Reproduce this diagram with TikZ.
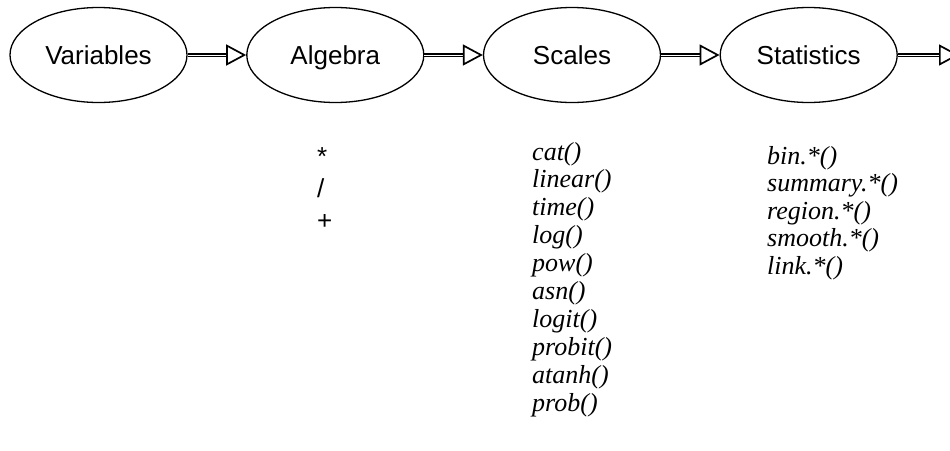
\documentclass[tikz,border=0pt]{standalone}
\usepackage{fontspec}
\setmainfont{Liberation Serif}
\setsansfont{Liberation Sans}
\usetikzlibrary{shapes.geometric,arrows.meta}
\begin{document}
\begin{tikzpicture}[x=1pt,y=-1pt,
  stage/.style={ellipse,draw,line width=1.3pt,minimum width=177pt,minimum height=95pt,inner sep=0pt,
    text height=19pt,text depth=0pt,
    font=\sffamily\fontsize{26}{31.7}\selectfont},
  flow/.style={double,line width=1.6pt,double distance=0.7pt,
    -{Triangle[open,length=20pt,width=21pt,line width=1.7pt]}},
  optxt/.style={anchor=base west,inner sep=0pt,font=\sffamily\fontsize{26}{31.7}\selectfont},
  fntxt/.style={anchor=base west,inner sep=0pt,font=\itshape\fontsize{26}{31.7}\selectfont}]
\useasboundingbox (0,0) rectangle (950,450);
\node[stage] (var) at (98.5,55) {Variables};
\node[stage] (alg) at (335.3,55) {Algebra};
\node[stage] (sca) at (572,55) {Scales};
\node[stage] (sta) at (808.7,55) {Statistics};
\coordinate (out) at (959,55);
\draw[flow] (var) -- (alg);
\draw[flow] (alg) -- (sca);
\draw[flow] (sca) -- (sta);
\draw[flow] (sta) -- (out);
\foreach \t [count=\i] in {*,/,+}
  \node[optxt] (a\i) at (317,165+32.3*\i-32.3) {\t};
\foreach \t [count=\i] in {cat(),linear(),time(),log(),pow(),asn(),logit(),probit(),atanh(),prob()}
  \node[fntxt] (s\i) at (532,160+27.9*\i-27.9) {\t};
\foreach \t [count=\i] in {bin.*(),summary.*(),region.*(),smooth.*(),link.*()}
  \node[fntxt] (t\i) at (767,164+27.6*\i-27.6) {\t};
\end{tikzpicture}
\end{document}
